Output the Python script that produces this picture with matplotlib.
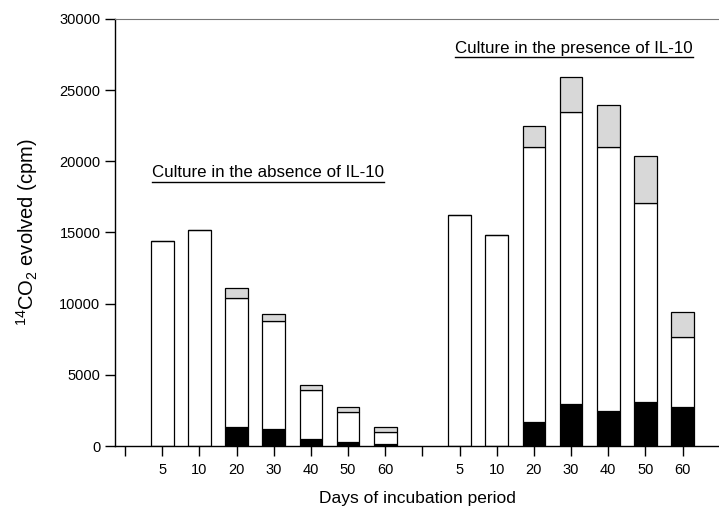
import matplotlib
matplotlib.use("Agg")
import matplotlib.pyplot as plt
import numpy as np
from matplotlib.lines import Line2D

plt.rcParams["font.family"] = ["Liberation Sans", "DejaVu Sans"]
plt.rcParams["mathtext.default"] = "regular"

# days of incubation (same for both cultures)
days = ["5", "10", "20", "30", "40", "50", "60"]

# culture without IL-10: cumulative tops (cpm)
absent_black = [0, 0, 1360, 1200, 510, 260, 140]
absent_white_top = [14400, 15200, 10430, 8810, 3940, 2410, 1000]
absent_total = [14400, 15200, 11130, 9300, 4310, 2740, 1340]

# culture with IL-10
present_black = [0, 0, 1660, 2950, 2480, 3090, 2770]
present_white_top = [16200, 14850, 21020, 23480, 21020, 17100, 7690]
present_total = [16200, 14850, 22450, 25920, 23980, 20340, 9400]

GRAY = "#d8d8d8"
width = 0.61

fig = plt.figure(figsize=(7.19, 5.17), dpi=100)
ax = fig.add_axes([0.160, 0.1373, 0.842, 0.826])


def draw_group(xs, black, white_top, total):
    black = np.array(black, dtype=float)
    white_top = np.array(white_top, dtype=float)
    total = np.array(total, dtype=float)
    ax.bar(xs, black, width, color="black", edgecolor="black", linewidth=0.9)
    ax.bar(xs, white_top - black, width, bottom=black, color="white",
           edgecolor="black", linewidth=0.9)
    gray = total - white_top
    ax.bar(xs, gray, width, bottom=white_top, color=GRAY,
           edgecolor="black", linewidth=0.9)


x1 = np.arange(1, 8)
x2 = np.arange(9, 16)
draw_group(x1, absent_black, absent_white_top, absent_total)
draw_group(x2, present_black, present_white_top, present_total)

ax.set_xlim(-0.27, 16.02)
ax.set_ylim(0, 30000)
ax.set_yticks(np.arange(0, 30001, 5000))
ax.set_xticks(np.arange(0, 17))
ax.set_xticklabels([""] + days + [""] + days + [""])

ax.spines["right"].set_visible(False)
ax.spines["top"].set_color("#777777")
ax.spines["left"].set_linewidth(1.0)
ax.spines["bottom"].set_linewidth(1.0)
ax.tick_params(axis="both", direction="out", length=7, width=1.0,
               labelsize=10.5, colors="black")
ax.tick_params(axis="x", pad=5)

ax.set_xlabel("Days of incubation period", fontsize=12.5, labelpad=10)
ax.set_ylabel(r"$^{14}$CO$_2$ evolved (cpm)", fontsize=14.5, labelpad=14)

# underlined annotations
notes = [
    (0.73, 18900, "Culture in the absence of IL-10"),
    (8.89, 27630, "Culture in the presence of IL-10"),
]
fig.canvas.draw()
renderer = fig.canvas.get_renderer()
for x, y, s in notes:
    t = ax.text(x, y, s, fontsize=12.2, ha="left", va="baseline")
    bb = t.get_window_extent(renderer=renderer)
    inv = fig.transFigure.inverted()
    (fx0, fy0), (fx1, fy1) = inv.transform([[bb.x0, bb.y0], [bb.x1, bb.y1]])
    fig.add_artist(Line2D([fx0, fx1], [fy0 - 0.003, fy0 - 0.003],
                          transform=fig.transFigure, color="black", lw=1.0))

fig.savefig("out.png", dpi=100)
